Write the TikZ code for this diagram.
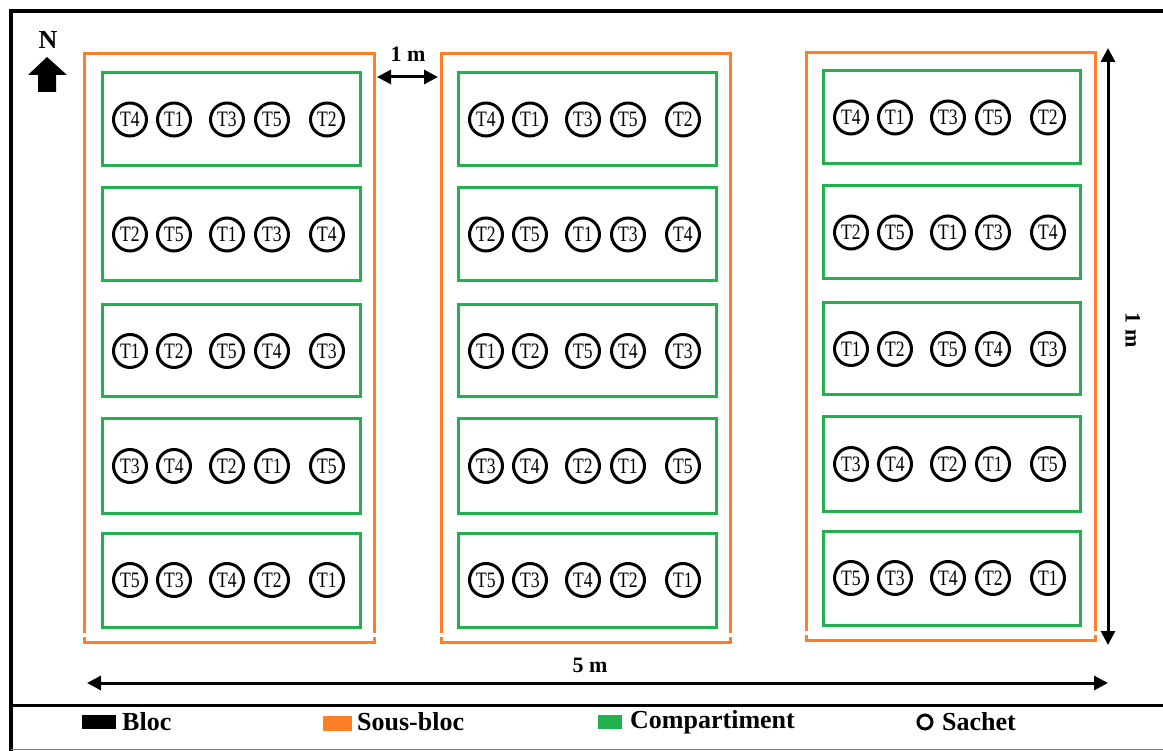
\documentclass[tikz,border=0pt]{standalone}
\usepackage{fontspec}
\setmainfont{Liberation Serif}
\usetikzlibrary{arrows.meta}
\definecolor{sbor}{HTML}{FF7F27}
\definecolor{cgr}{HTML}{22B14C}
\tikzset{
  subbloc/.style={draw=sbor, line width=3pt},
  compart/.style={draw=cgr, line width=3pt},
  sachet/.style={circle, draw=black, line width=3pt, minimum size=33pt, inner sep=0pt, font=\fontsize{22}{22}\selectfont},
  dimarrow/.style={line width=3pt, {Triangle[length=14pt,width=14pt]}-{Triangle[length=14pt,width=14pt]}},
  dimlbl/.style={font=\bfseries\fontsize{22}{22}\selectfont, inner sep=0pt},
  legtxt/.style={font=\bfseries\fontsize{26}{26}\selectfont, anchor=west, inner sep=0pt},
  frameline/.style={draw=black, line width=4.5pt},
}
\begin{document}
\begin{tikzpicture}[x=1pt,y=-1pt]
\useasboundingbox (0,0) rectangle (1163,751);
\fill[white] (0,0) rectangle (1163,751);
% frame
\draw[frameline] (11,751) -- (11,11) -- (1163,11);
\draw[line width=3pt] (11,705) -- (1163,705);
\draw[gray, line width=1.5pt] (11,749.5) -- (1163,749.5);
% north arrow
\fill (28,75) -- (47,57) -- (67,75) -- (56,75) -- (56,92) -- (38,92) -- (38,75) -- cycle;
\node[font=\bfseries\fontsize{26}{26}\selectfont, inner sep=0pt] (north) at (48,40) {N};
% blocks
\foreach \b/\L/\R/\T/\B/\gL/\gR/\dy in {1/84/374/54/642/102/360/0, 2/441/730/54/642/458/716/0, 3/806/1095/53/640/823/1080/-2}{
  \draw[subbloc] (\L,\B-9) -- (\L,\T) -- (\R,\T) -- (\R,\B-9);
  \draw[subbloc] (\L,\B-5) -- (\L,\B) -- (\R,\B) -- (\R,\B-5);
  \foreach \r/\rt/\rb/\sa/\sb/\sc/\sd/\se in {1/73/166/4/1/3/5/2, 2/188/281/2/5/1/3/4, 3/305/397/1/2/5/4/3, 4/419/513/3/4/2/1/5, 5/533/627/5/3/4/2/1}{
    \draw[compart] (\gL,\rt+\dy) rectangle (\gR,\rb+\dy);
    \foreach \k/\off/\t in {1/28/\sa, 2/72/\sb, 3/125/\sc, 4/170/\sd, 5/225/\se}{
      \node[sachet] (s\b\r\k) at (\gL+\off,{(\rt+\rb)/2+\dy}) {\scalebox{0.8}[1]{T\t}};
    }
  }
}
% dimension arrows
\coordinate (h1a) at (377,77);
\coordinate (h1b) at (438,77);
\draw[dimarrow] (h1a) -- (h1b);
\node[dimlbl] (l1) at (408,54) {1 m};
\coordinate (v1a) at (1108,48);
\coordinate (v1b) at (1108,645);
\draw[dimarrow] (v1a) -- (v1b);
\node[dimlbl, rotate=-90] (l2) at (1133,330) {1 m};
\coordinate (h5a) at (87,683);
\coordinate (h5b) at (1108,683);
\draw[dimarrow] (h5a) -- (h5b);
\node[dimlbl] (l5) at (590,665) {5 m};
% legend
\fill[black] (82,715) rectangle (116,729);
\node[legtxt] (lg1) at (122,722) {Bloc};
\fill[sbor] (323,716) rectangle (352,731);
\node[legtxt] (lg2) at (357,722) {Sous-bloc};
\fill[cgr] (598,715) rectangle (622,729);
\node[legtxt] (lg3) at (630,722) {Compartiment};
\draw[line width=3pt] (925,722) circle (7);
\node[legtxt] (lg4) at (942,722) {Sachet};
\end{tikzpicture}
\end{document}
